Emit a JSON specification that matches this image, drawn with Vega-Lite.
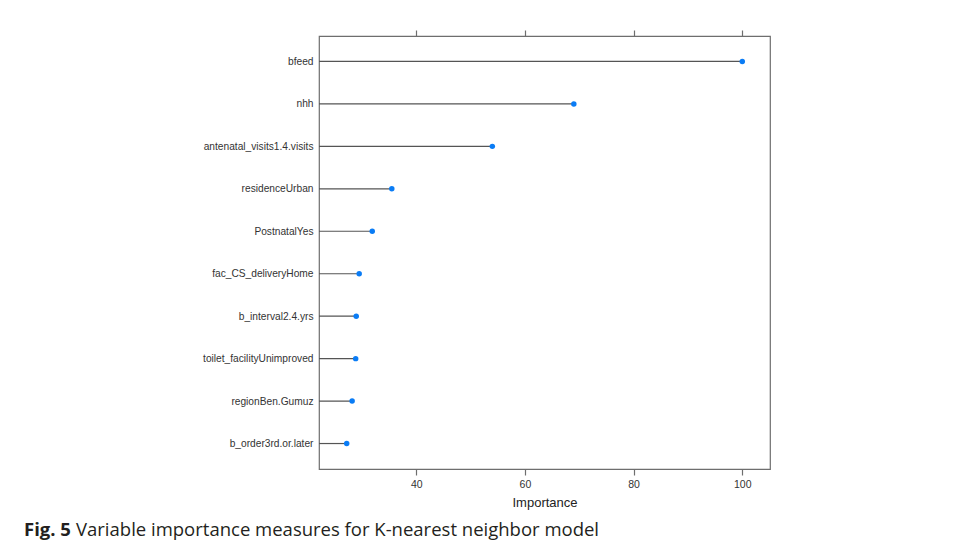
{
  "$schema": "https://vega.github.io/schema/vega-lite/v6.json",
  "padding": {"left": 24, "top": 28, "right": 5, "bottom": 5},
  "background": "white",
  "config": {"view": {"stroke": "#6e6e6e", "strokeWidth": 1.2}, "font": "Liberation Sans"},
  "title": {"text": "Fig. 5", "orient": "bottom", "anchor": "start", "frame": "group", "font": "Open Sans", "fontSize": 18.5, "fontWeight": "bold", "color": "#231f20", "offset": -18.5, "dx": -295},
  "vconcat": [
    {
      "title": {"text": "Variable importance measures for K-nearest neighbor model", "orient": "bottom", "anchor": "start", "frame": "group", "font": "Open Sans", "fontSize": 18.5, "fontWeight": "normal", "color": "#231f20", "offset": 11, "dx": -243},
      "width": 451,
      "height": 433,
      "data": {"values": [
        {"Variable": "bfeed", "Importance": 100},
        {"Variable": "nhh", "Importance": 69.0},
        {"Variable": "antenatal_visits1.4.visits", "Importance": 54.0},
        {"Variable": "residenceUrban", "Importance": 35.5},
        {"Variable": "PostnatalYes", "Importance": 31.9},
        {"Variable": "fac_CS_deliveryHome", "Importance": 29.5},
        {"Variable": "b_interval2.4.yrs", "Importance": 28.95},
        {"Variable": "toilet_facilityUnimproved", "Importance": 28.85},
        {"Variable": "regionBen.Gumuz", "Importance": 28.2},
        {"Variable": "b_order3rd.or.later", "Importance": 27.2}
      ]},
      "encoding": {
        "y": {
          "field": "Variable", "type": "nominal",
          "sort": ["bfeed", "nhh", "antenatal_visits1.4.visits", "residenceUrban", "PostnatalYes", "fac_CS_deliveryHome", "b_interval2.4.yrs", "toilet_facilityUnimproved", "regionBen.Gumuz", "b_order3rd.or.later"],
          "scale": {"type": "point", "padding": 0.6},
          "axis": {"title": null, "domain": false, "ticks": false, "labelPadding": 6, "labelFontSize": 10.2, "labelColor": "#333333", "labelFont": "Liberation Sans"}
        }
      },
      "layer": [
        {
          "mark": {"type": "rule", "color": "#555555", "strokeWidth": 1.2},
          "encoding": {
            "x": {"field": "Importance", "type": "quantitative", "scale": {"domain": [22.1, 105.1], "nice": false, "zero": false},
              "axis": {"orient": "bottom", "values": [40, 60, 80, 100], "title": "Importance", "titleFont": "Liberation Sans", "titleFontSize": 13, "titleFontWeight": "normal", "titleColor": "#222222", "titlePadding": 7, "domain": false, "grid": false, "tickColor": "#6e6e6e", "tickSize": 6, "tickWidth": 1.2, "labelPadding": 4, "labelFontSize": 10.5, "labelColor": "#333333", "labelFont": "Liberation Sans"}},
            "x2": {"datum": 22.1}
          }
        },
        {
          "mark": {"type": "circle", "color": "#0a7cf5", "opacity": 1, "size": 30},
          "encoding": {
            "x": {"field": "Importance", "type": "quantitative",
              "axis": {"orient": "top", "values": [40, 60, 80, 100], "title": null, "labels": false, "domain": false, "grid": false, "tickColor": "#6e6e6e", "tickSize": 6, "tickWidth": 1.2}}
          }
        }
      ],
      "resolve": {"axis": {"x": "independent"}}
    }
  ]
}
